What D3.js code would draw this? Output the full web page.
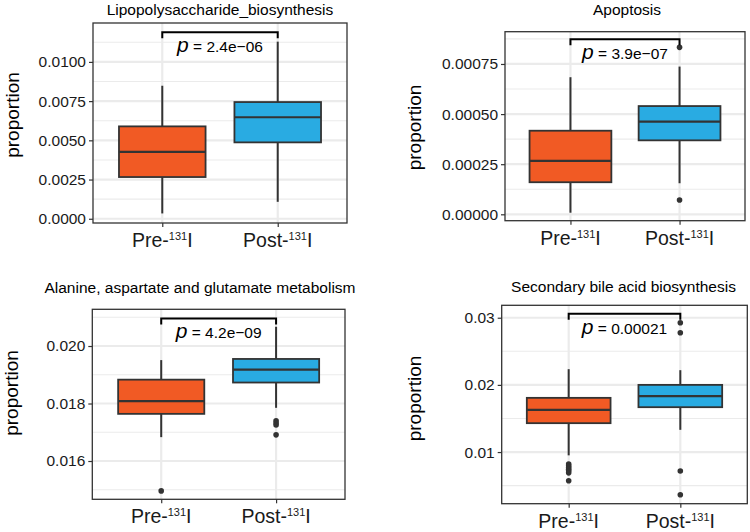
<!DOCTYPE html>
<html>
<head>
<meta charset="utf-8">
<script src="https://cdn.jsdelivr.net/npm/d3@7"></script>
<style>
  html, body { margin: 0; padding: 0; background: #fff; }
  svg { display: block; font-family: "Liberation Sans", Arial, Helvetica, sans-serif; }
</style>
</head>
<body>
<svg id="chart" width="750" height="532"></svg>
<script>
// ---------------- DATA ----------------
const groups = ["Pre", "Post"];
const groupColors = ["#F15A24", "#29ABE2"];
const titles = [
  "Lipopolysaccharide_biosynthesis",
  "Apoptosis",
  "Alanine, aspartate and glutamate metabolism",
  "Secondary bile acid biosynthesis"
];
// [lowerWhisker, Q1, median, Q3, upperWhisker]
const preStats = [
  [0.00034, 0.00266, 0.00427, 0.00589, 0.00848],
  [0.000008, 0.000160, 0.000267, 0.000417, 0.000684],
  [0.01683, 0.01764, 0.01808, 0.01883, 0.01951],
  [0.00951, 0.01430, 0.01628, 0.01807, 0.02234]
];
const postStats = [
  [0.00108, 0.00487, 0.00647, 0.00744, 0.01129],
  [0.000155, 0.000369, 0.000462, 0.000540, 0.000737],
  [0.01785, 0.01873, 0.01918, 0.01955, 0.02067],
  [0.01331, 0.01668, 0.01832, 0.02000, 0.02219]
];
const preOutliers = [
  [],
  [],
  [0.01496],
  [0.00821, 0.00795, 0.00770, 0.00745, 0.00720, 0.00690, 0.00573]
];
const postOutliers = [
  [],
  [0.000833, 0.0000714],
  [0.01740, 0.01732, 0.01725, 0.01691],
  [0.02926, 0.02777, 0.00717, 0.00364]
];
const pValues = ["2.4e\u221206", "3.9e\u221207", "4.2e\u221209", "0.00021"];
const bracketLevels = [0.01189, 0.000873, 0.02096, 0.0306];
const yTickValues = [
  [0, 0.0025, 0.005, 0.0075, 0.01],
  [0, 0.00025, 0.0005, 0.00075],
  [0.016, 0.018, 0.020],
  [0.01, 0.02, 0.03]
];
const yTickLabels = [
  ["0.0000", "0.0025", "0.0050", "0.0075", "0.0100"],
  ["0.00000", "0.00025", "0.00050", "0.00075"],
  ["0.016", "0.018", "0.020"],
  ["0.01", "0.02", "0.03"]
];
const yMinorValues = [
  [0.00125, 0.00375, 0.00625, 0.00875, 0.01125],
  [0.000125, 0.000375, 0.000625, 0.000875],
  [0.015, 0.017, 0.019, 0.021],
  [0.005, 0.015, 0.025]
];
const yDomains = [
  [-0.00027, 0.01248],
  [-0.0000319, 0.000911],
  [0.014668, 0.021277],
  [0.00231, 0.03185]
];

// ---------------- LAYOUT ----------------
const layout = [
  { left: 93,    right: 347,   top: 23,    bottom: 223,   titleX: 220,   titleY: 15,  ylabX: 19,  ylabY: 115 },
  { left: 505,   right: 745,   top: 31.7,  bottom: 220.7, titleX: 627,   titleY: 15,  ylabX: 421, ylabY: 127.5 },
  { left: 92.3,  right: 345,   top: 309.3, bottom: 499.3, titleX: 200,   titleY: 293, ylabX: 18,  ylabY: 393 },
  { left: 501.7, right: 747.3, top: 305.3, bottom: 503.7, titleX: 623.5, titleY: 292, ylabX: 421, ylabY: 398.5 }
];

const svg = d3.select("#chart");
const dark = "#333333";
const gridCol = "#EBEBEB";

layout.forEach((L, i) => {
  const g = svg.append("g");
  const x = d3.scalePoint().domain(groups).range([L.left, L.right]).padding(0.6);
  const y = d3.scaleLinear().domain(yDomains[i]).range([L.bottom, L.top]);
  const step = x.step();
  const bw = step * 0.75;

  // grid
  g.selectAll(".minor").data(yMinorValues[i]).enter().append("line")
    .attr("x1", L.left).attr("x2", L.right)
    .attr("y1", d => y(d)).attr("y2", d => y(d))
    .attr("stroke", gridCol).attr("stroke-width", 1.1);
  g.selectAll(".major").data(yTickValues[i]).enter().append("line")
    .attr("x1", L.left).attr("x2", L.right)
    .attr("y1", d => y(d)).attr("y2", d => y(d))
    .attr("stroke", gridCol).attr("stroke-width", 2.2);
  g.selectAll(".vmajor").data(groups).enter().append("line")
    .attr("x1", d => x(d)).attr("x2", d => x(d))
    .attr("y1", L.top).attr("y2", L.bottom)
    .attr("stroke", gridCol).attr("stroke-width", 2.2);

  // boxes
  const stats = [preStats[i], postStats[i]];
  const outs = [preOutliers[i], postOutliers[i]];
  groups.forEach((gr, k) => {
    const s = stats[k];
    const cx = x(gr);
    g.append("line").attr("x1", cx).attr("x2", cx).attr("y1", y(s[4])).attr("y2", y(s[3]))
      .attr("stroke", dark).attr("stroke-width", 2);
    g.append("line").attr("x1", cx).attr("x2", cx).attr("y1", y(s[1])).attr("y2", y(s[0]))
      .attr("stroke", dark).attr("stroke-width", 2);
    g.append("rect").attr("x", cx - bw / 2).attr("width", bw)
      .attr("y", y(s[3])).attr("height", y(s[1]) - y(s[3]))
      .attr("fill", groupColors[k]).attr("stroke", dark).attr("stroke-width", 1.8);
    g.append("line").attr("x1", cx - bw / 2).attr("x2", cx + bw / 2)
      .attr("y1", y(s[2])).attr("y2", y(s[2]))
      .attr("stroke", dark).attr("stroke-width", 2.2);
    g.selectAll(null).data(outs[k]).enter().append("circle")
      .attr("cx", cx).attr("cy", d => y(d)).attr("r", 2.8).attr("fill", dark);
  });

  // panel border
  g.append("rect").attr("x", L.left).attr("y", L.top)
    .attr("width", L.right - L.left).attr("height", L.bottom - L.top)
    .attr("fill", "none").attr("stroke", dark).attr("stroke-width", 1.3);

  // y axis
  const yAxis = d3.axisLeft(y).tickValues(yTickValues[i])
    .tickFormat((d, j) => yTickLabels[i][j]).tickSize(4).tickPadding(3);
  const ya = g.append("g").attr("transform", `translate(${L.left},0)`).call(yAxis);
  ya.select(".domain").remove();
  ya.selectAll(".tick line").attr("stroke", dark).attr("stroke-width", 1.2);
  ya.selectAll(".tick text").attr("fill", "#1a1a1a").attr("font-size", 15.5)
    .attr("font-family", "Liberation Sans, Arial, sans-serif");

  // x axis
  const xAxis = d3.axisBottom(x).tickSize(4).tickFormat("");
  const xa = g.append("g").attr("transform", `translate(0,${L.bottom})`).call(xAxis);
  xa.select(".domain").remove();
  xa.selectAll(".tick line").attr("stroke", dark).attr("stroke-width", 1.2);
  groups.forEach(gr => {
    const t = g.append("text").attr("x", x(gr)).attr("y", L.bottom + 24)
      .attr("text-anchor", "middle").attr("fill", "#1a1a1a").attr("font-size", 19.5);
    t.append("tspan").text(gr + "-");
    t.append("tspan").attr("font-size", 11).attr("dy", -7).text("131");
    t.append("tspan").attr("dy", 7).text("I");
  });

  // title
  g.append("text").attr("x", L.titleX).attr("y", L.titleY).attr("text-anchor", "middle")
    .attr("font-size", 15.5).attr("fill", "#000").text(titles[i]);

  // y label
  g.append("text").attr("transform", `translate(${L.ylabX},${L.ylabY}) rotate(-90)`)
    .attr("text-anchor", "middle").attr("font-size", 19).attr("fill", "#000").text("proportion");

  // significance bracket
  const by = y(bracketLevels[i]);
  const x1 = x(groups[0]), x2 = x(groups[1]);
  g.append("path").attr("d", `M${x1},${by + 6}V${by}H${x2}V${by + 6}`)
    .attr("fill", "none").attr("stroke", "#000").attr("stroke-width", 2);
  const pt = g.append("text").attr("x", (x1 + x2) / 2).attr("y", by + 20)
    .attr("text-anchor", "middle").attr("fill", "#000");
  pt.append("tspan").attr("font-style", "italic").attr("font-size", 21).text("p");
  pt.append("tspan").attr("font-size", 15.5).text(" = " + pValues[i]);
});
</script>
</body>
</html>
